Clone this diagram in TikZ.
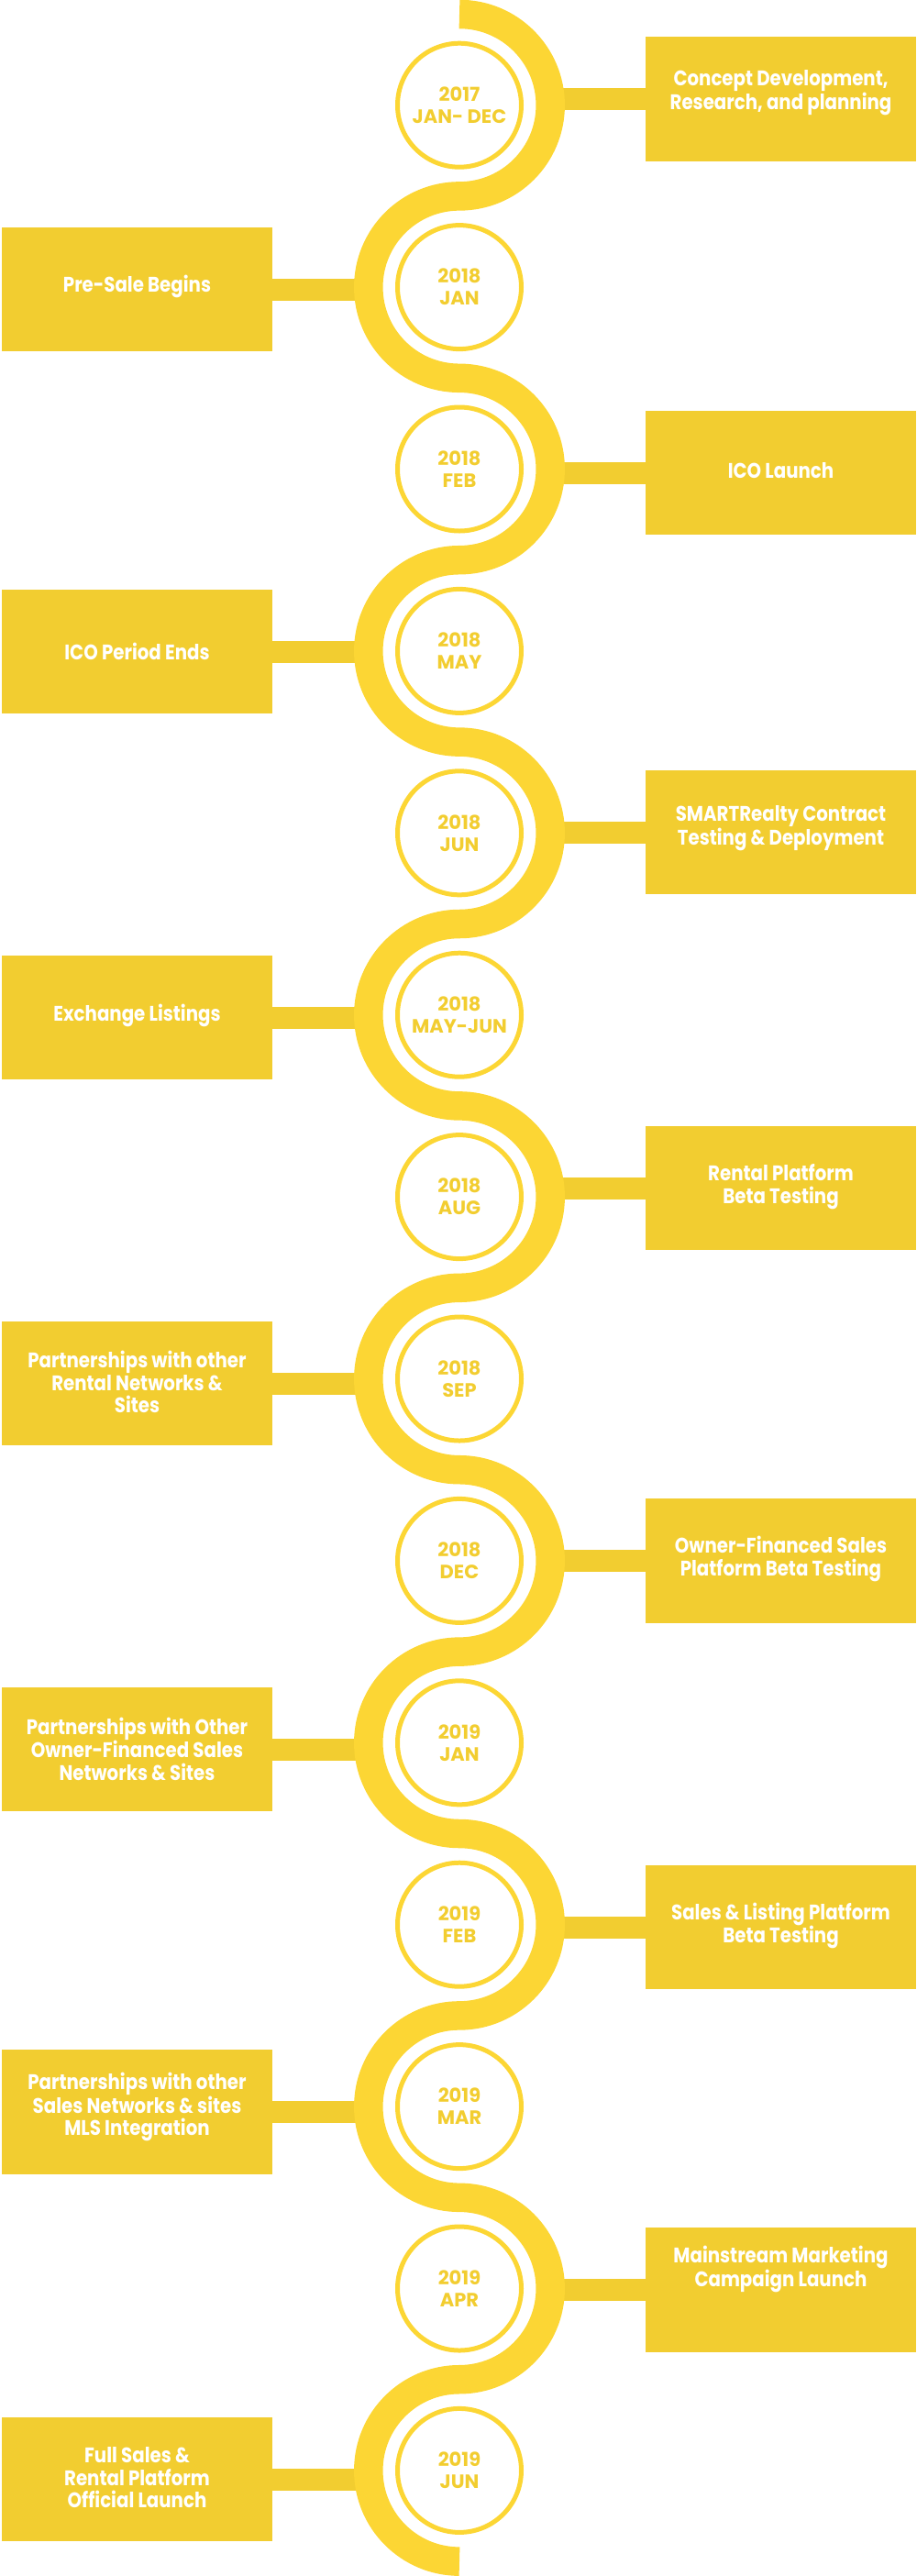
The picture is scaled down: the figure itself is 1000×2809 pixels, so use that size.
\documentclass[tikz,border=0pt]{standalone}
\usepackage{fontspec}
\newfontfamily\datefont{Poppins}[UprightFont=* Bold]
\newfontfamily\boxfont{Poppins}[UprightFont=* Bold, FakeStretch=0.86]
\definecolor{wavecol}{HTML}{FCD634}
\definecolor{boxcol}{HTML}{F2CD30}
\tikzset{
  wave/.style={draw=wavecol, line width=31.5pt, line cap=butt},
  datering/.style={circle, draw=wavecol, line width=5pt, minimum size=135pt, inner sep=0pt,
    text=boxcol, align=center, font=\datefont\fontsize{21}{24}\selectfont},
  eventbox/.style={rectangle, fill=boxcol, minimum width=295pt, minimum height=135.5pt, inner sep=0pt},
  eventtext/.style={text=white, align=center, font=\boxfont\fontsize{23}{24.5}\selectfont},
  bar/.style={draw=boxcol, line width=24pt},
}
\begin{document}
\begin{tikzpicture}[x=1pt, y=-1pt]
  \useasboundingbox (0,0) rectangle (1000,2809);
  % boxes, bars and date rings
  \foreach \i/\by/\ty/\dt/\lb in {
    1/107.8/101/{2017\\JAN- DEC}/{Concept Development,\\Research, and planning},
    2/315.7/312.5/{2018\\JAN}/{Pre-Sale Begins},
    3/515.5/513.4/{2018\\FEB}/{ICO Launch},
    4/710.5/710/{2018\\MAY}/{ICO Period Ends},
    5/907.7/903/{2018\\JUN}/{SMARTRealty Contract\\Testing \& Deployment},
    6/1109.5/1107/{2018\\MAY-JUN}/{Exchange Listings},
    7/1295.5/1294/{2018\\AUG}/{Rental Platform\\Beta Testing},
    8/1508.5/1507/{2018\\SEP}/{Partnerships with other\\Rental Networks \&\\Sites},
    9/1702/1700/{2018\\DEC}/{Owner-Financed Sales\\Platform Beta Testing},
    10/1907.5/1907/{2019\\JAN}/{Partnerships with Other\\Owner-Financed Sales\\Networks \& Sites},
    11/2101.7/2100/{2019\\FEB}/{Sales \& Listing Platform\\Beta Testing},
    12/2303/2297.6/{2019\\MAR}/{Partnerships with other\\Sales Networks \& sites\\MLS Integration},
    13/2497/2474.5/{2019\\APR}/{Mainstream Marketing\\Campaign Launch},
    14/2703.5/2702/{2019\\JUN}/{Full Sales \&\\Rental Platform\\Official Launch}}{
    \pgfmathsetmacro\cy{114.7+198.4*(\i-1)}
    \ifodd\i
      \node[eventbox] (b\i) at (851.5,\by) {};
      \node[eventtext] (t\i) at (851.5,\ty) {\lb};
      \coordinate (w\i) at (600,\by);
    \else
      \node[eventbox] (b\i) at (149.5,\by) {};
      \node[eventtext] (t\i) at (149.5,\ty) {\lb};
      \coordinate (w\i) at (402,\by);
    \fi
    \draw[bar] (b\i) -- (w\i);
    \node[datering] (d\i) at (501,\cy) {\dt};
  }
  % the wave
  \draw[wave] (501,15.5) \foreach \d in {180,-180,180,-180,180,-180,180,-180,180,-180,180,-180,180,-180}{
    arc[start angle=-90, delta angle=\d, radius=99.2]};
\end{tikzpicture}
\end{document}
